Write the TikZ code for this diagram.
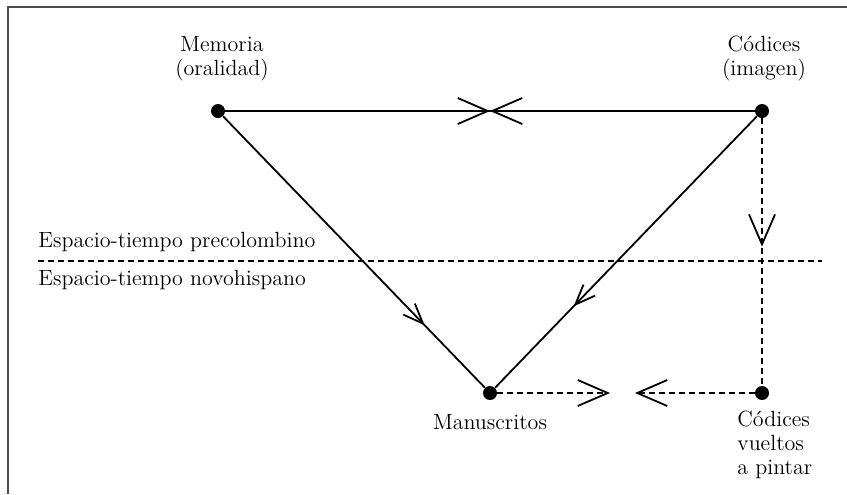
\documentclass[tikz,border=0pt]{standalone}
\usepackage{tikz}
\usetikzlibrary{arrows.meta}
\usetikzlibrary{decorations.markings}
\usetikzlibrary{positioning}

\tikzset{
  punto/.style={circle,fill=black,inner sep=0pt,minimum size=7pt},
  texto/.style={inner sep=0pt,font=\fontsize{11}{12}\selectfont},
  linea/.style={line width=0.9pt},
  trazos/.style={line width=0.9pt,dash pattern=on 3pt off 2pt},
  marco/.style={line width=0.9pt,draw=black!70},
  punta/.style={-{Straight Barb[length=15pt,width=13pt]}},
  flechamedio/.style={postaction={decorate},decoration={markings,
    mark=at position #1 with {\arrow{Straight Barb[length=10pt,width=8pt]}}}},
  flechagrande/.style={postaction={decorate},decoration={markings,
    mark=at position #1 with {\arrow{Straight Barb[length=15pt,width=13pt]}}}},
  cruce/.style={postaction={decorate},decoration={markings,
    mark=at position 0.5 with {\arrow{Straight Barb[length=15pt,width=13pt]}},
    mark=at position 0.5 with {\arrowreversed{Straight Barb[length=15pt,width=13pt]}}}},
}

\begin{document}
\begin{tikzpicture}[x=0.5pt,y=-0.5pt]
\useasboundingbox (0,0) rectangle (847,494);
\draw[marco] (8,494) -- (8,7) -- (847,7);

% puntos
\path (218,111) node(mem)[punto]{};
\path (762,111) node(cod)[punto]{};
\path (490,393) node(man)[punto]{};
\path (762,393) node(cvp)[punto]{};
\coordinate (flman) at (610,393);
\coordinate (flcvp) at (635,393);

% textos
\node[texto,align=center,above=11pt of mem,xshift=2pt] (tmem) {Memoria\\(oralidad)};
\node[texto,align=center,above=11pt of cod,xshift=1pt] (tcod) {C\'odices\\(imagen)};
\node[texto,below=7pt of man] (tman) {Manuscritos};
\node[texto,align=left,anchor=north west] (tcvp) at (737,411) {C\'odices\\vueltos\\a pintar};

% division
\coordinate (divi) at (38,261);
\coordinate (divd) at (822,261);
\draw[trazos] (divi) -- (divd);
\node[texto,anchor=base west] (tpre) at (38,247) {Espacio-tiempo precolombino};
\node[texto,anchor=base west] (tnov) at (38,285) {Espacio-tiempo novohispano};

% conectores
\draw[linea,cruce] (mem) -- (cod);
\draw[linea,flechamedio=0.77] (mem) -- (man);
\draw[linea,flechamedio=0.70] (cod) -- (man);
\draw[trazos,flechagrande=0.48] (cod) -- (cvp);
\draw[trazos,punta] (man) -- (flman);
\draw[trazos,punta] (cvp) -- (flcvp);
\end{tikzpicture}
\end{document}
